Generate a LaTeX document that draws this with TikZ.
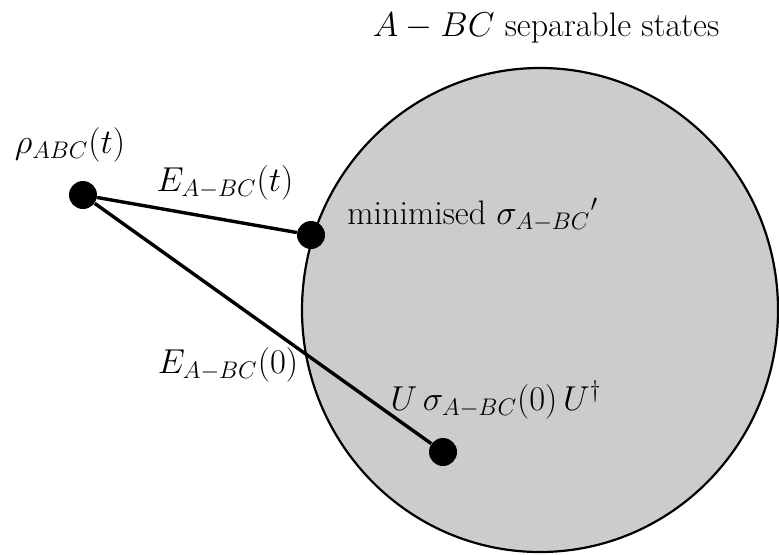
\documentclass[tikz,border=0pt]{standalone}
\usepackage{xcolor}
\usepackage{tikz}
\usetikzlibrary{calc,positioning}
\definecolor{sepfill}{RGB}{204,204,204}
\tikzset{
  sepset/.style={draw=black, fill=sepfill, line width=1.1pt},
  statedot/.style={circle, fill=black, minimum size=14pt, inner sep=0pt},
  distline/.style={line width=1.7pt},
  lbl/.style={font=\fontsize{17}{20}\selectfont, inner sep=1pt},
}
\begin{document}
\begin{tikzpicture}[x=0.5pt, y=0.5pt]
\useasboundingbox (0,0) rectangle (779,554);
% set of A-BC separable states
\draw[sepset] (540,244) ellipse [x radius=238, y radius=242];
\node[lbl] (title) at (546,526) {$A-BC$ separable states};
% the three states
\node[statedot] (rho) at (83,359) {};
\node[statedot] (sigmin) at (311,319) {};
\node[statedot] (sigU) at (443,102) {};
% distances
\draw[distline] (rho) -- (sigmin);
\draw[distline] (rho) -- (sigU);
% labels
\node[lbl] (rholbl) at (70,409) {$\rho_{ABC}(t)$};
\node[lbl] (Et) at (225,371) {$E_{A-BC}(t)$};
\node[lbl, anchor=west] (minlbl) at (345,339) {minimised $\sigma_{A-BC}{}'$};
\node[lbl] (E0) at (228,189) {$E_{A-BC}(0)$};
\node[lbl] (Ulbl) at (496,154) {$U\,\sigma_{A-BC}(0)\,U^{\dagger}$};
\end{tikzpicture}
\end{document}
